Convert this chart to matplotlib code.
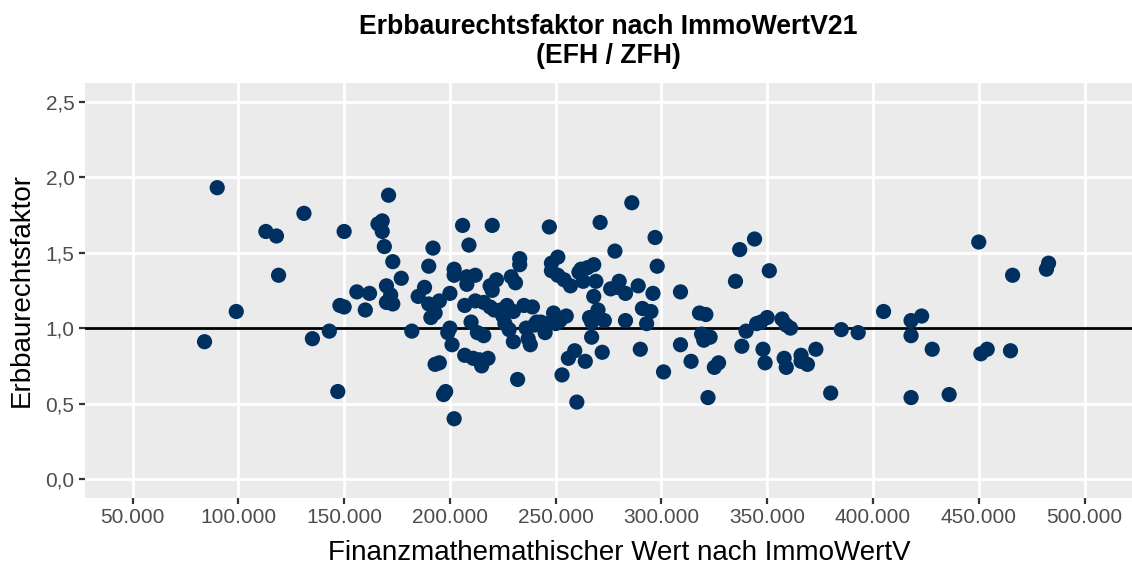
import matplotlib.pyplot as plt
from matplotlib.ticker import FuncFormatter

plt.rcParams['font.family'] = ['Liberation Sans', 'DejaVu Sans']

# Finanzmathematischer Wert (EUR) und Erbbaurechtsfaktor je Kauffall
wert = [84, 90, 99, 113, 118, 119, 131, 135, 143, 147, 148, 150, 150, 156, 160,
        162, 166, 168, 168, 169, 170, 170, 171, 172, 173, 173, 177, 182, 185, 188,
        190, 190, 191, 192, 193, 193, 195, 195, 197, 198, 199, 200, 200, 201, 202,
        202, 202, 206, 207, 207, 208, 208, 209, 210, 211, 212, 212, 213, 214, 215,
        216, 216, 218, 219, 219, 220, 220, 221, 222, 224, 225, 226, 227, 228, 229,
        230, 230, 231, 232, 233, 233, 235, 236, 237, 238, 239, 240, 241, 243, 245,
        246, 247, 248, 248, 249, 250, 251, 251, 252, 253, 254, 255, 256, 257, 259,
        260, 261, 262, 263, 264, 265, 266, 267, 267, 268, 268, 269, 270, 271, 272,
        273, 276, 278, 279, 280, 283, 283, 286, 289, 290, 291, 293, 295, 296, 297,
        298, 301, 309, 309, 314, 318, 319, 320, 321, 322, 323, 325, 327, 335, 337,
        338, 340, 344, 345, 347, 348, 349, 350, 351, 357, 358, 359, 359, 361, 366,
        366, 369, 373, 380, 385, 393, 405, 418, 418, 418, 423, 428, 436, 450, 451,
        454, 465, 466, 482, 483]
faktor = [0.91, 1.93, 1.11, 1.64, 1.61, 1.35, 1.76, 0.93, 0.98, 0.58, 1.15, 1.14, 1.64, 1.24, 1.12,
          1.23, 1.69, 1.71, 1.64, 1.54, 1.17, 1.28, 1.88, 1.22, 1.16, 1.44, 1.33, 0.98, 1.21, 1.27,
          1.41, 1.16, 1.07, 1.53, 1.10, 0.76, 0.77, 1.18, 0.56, 0.58, 0.97, 1.00, 1.23, 0.89, 0.40,
          1.39, 1.35, 1.68, 1.15, 0.82, 1.34, 1.29, 1.55, 1.04, 0.80, 1.35, 1.18, 0.97, 0.79, 0.75,
          1.17, 0.95, 0.80, 1.28, 1.14, 1.68, 1.25, 1.12, 1.32, 1.12, 1.08, 1.03, 1.15, 0.99, 1.34,
          1.11, 0.91, 1.30, 0.66, 1.42, 1.46, 1.15, 1.00, 0.93, 0.89, 1.14, 1.02, 1.04, 1.04, 0.97,
          1.03, 1.67, 1.38, 1.43, 1.10, 1.03, 1.35, 1.47, 1.05, 0.69, 1.32, 1.08, 0.80, 1.28, 0.85,
          0.51, 1.37, 1.39, 1.31, 0.78, 1.40, 1.07, 1.04, 0.94, 1.42, 1.21, 1.31, 1.12, 1.70, 0.84,
          1.05, 1.26, 1.51, 1.27, 1.31, 1.05, 1.23, 1.83, 1.28, 0.86, 1.13, 1.03, 1.11, 1.23, 1.60,
          1.41, 0.71, 0.89, 1.24, 0.78, 1.10, 0.96, 0.92, 1.09, 0.54, 0.94, 0.74, 0.77, 1.31, 1.52,
          0.88, 0.98, 1.59, 1.03, 1.04, 0.86, 0.77, 1.07, 1.38, 1.06, 0.80, 0.74, 1.02, 1.00, 0.78,
          0.82, 0.76, 0.86, 0.57, 0.99, 0.97, 1.11, 1.05, 0.95, 0.54, 1.08, 0.86, 0.56, 1.57, 0.83,
          0.86, 0.85, 1.35, 1.39, 1.43]
wert = [w * 1000 for w in wert]

x_ticks = list(range(50000, 500001, 50000))
y_ticks = [0.0, 0.5, 1.0, 1.5, 2.0, 2.5]

fig = plt.figure(figsize=(11.32, 5.67), dpi=100)
ax = fig.add_axes([0.0751, 0.1217, 0.925, 0.7324])
ax.set_facecolor('#EBEBEB')
for s in ax.spines.values():
    s.set_visible(False)

ax.set_xlim(27500, 522500)
ax.set_ylim(-0.125, 2.625)
ax.set_xticks(x_ticks)
ax.set_yticks(y_ticks)
ax.grid(True, color='white', linewidth=2.0)
ax.set_axisbelow(True)

ax.xaxis.set_major_formatter(FuncFormatter(lambda v, p: f'{int(v):,}'.replace(',', '.')))
ax.yaxis.set_major_formatter(FuncFormatter(lambda v, p: f'{v:.1f}'.replace('.', ',')))
ax.tick_params(axis='both', colors='#333333', labelcolor='#4D4D4D',
               labelsize=15, length=4, width=1.6)

ax.axhline(1.0, color='black', linewidth=2.0, zorder=2)
ax.scatter(wert, faktor, s=120, color='#00305F', edgecolors='none', zorder=3)

ax.set_xlabel('Finanzmathemathischer Wert nach ImmoWertV', fontsize=20, labelpad=9)
ax.xaxis.label.set_x(0.51)
ax.set_ylabel('Erbbaurechtsfaktor', fontsize=20, labelpad=8)
ax.set_title('Erbbaurechtsfaktor nach ImmoWertV21\n(EFH / ZFH)',
             fontsize=19.2, fontweight='bold', pad=14, linespacing=1.15)

fig.savefig('out.png', dpi=100)
